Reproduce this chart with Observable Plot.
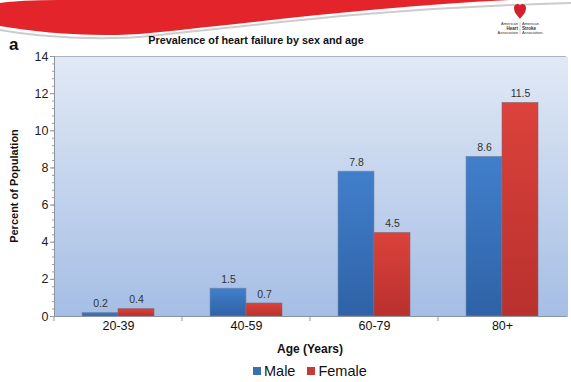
<!DOCTYPE html>
<html>
<head>
<meta charset="utf-8">
<script src="https://cdn.jsdelivr.net/npm/d3@7"></script>
<script src="https://cdn.jsdelivr.net/npm/@observablehq/plot@0.6"></script>
<style>
  html, body { margin: 0; padding: 0; background: #fff; }
  #wrap { position: relative; width: 571px; height: 382px; overflow: hidden; font-family: "Liberation Sans", Arial, sans-serif; color: #111; }
  .abs { position: absolute; white-space: nowrap; }
  #chart { position: absolute; left: 0; top: 0; }
</style>
</head>
<body>
<svg width="0" height="0" style="position:absolute">
  <defs>
    <linearGradient id="bgGrad" x1="0" y1="0" x2="0" y2="1">
      <stop offset="0" stop-color="#e1e9f5"/>
      <stop offset="1" stop-color="#a5bee5"/>
    </linearGradient>
    <linearGradient id="gMale" x1="0" y1="0" x2="0" y2="1">
      <stop offset="0" stop-color="#417fcc"/>
      <stop offset="1" stop-color="#2f62a6"/>
    </linearGradient>
    <linearGradient id="gFemale" x1="0" y1="0" x2="0" y2="1">
      <stop offset="0" stop-color="#dc423b"/>
      <stop offset="1" stop-color="#b8302d"/>
    </linearGradient>
  </defs>
</svg>
<div id="wrap">
  <svg class="abs" style="left:0;top:0" width="571" height="45">
    <path d="M0,30 C40,37 100,41 150,36 C260,25 380,8 571,3" fill="none" stroke="#ccc" stroke-width="2"/>
    <path d="M0,3 Q20,0 60,0 L510,0 C380,6 260,22 150,33 C100,38 40,33 0,26 Z" fill="#e3242b"/>
    <g transform="translate(514,4)">
      <path d="M0,4 C0,-1 6,-1 6,2 C6,-1 12,-1 12,4 C12,9 8,12 6,15 C4,12 0,9 0,4 Z" fill="#d4202a"/>
      <line x1="0" y1="18" x2="0" y2="30" stroke="#999" stroke-width="0.5" transform="translate(6,0)"/>
      <text x="4" y="21" font-size="4" text-anchor="end" fill="#333">American</text>
      <text x="4" y="25.5" font-size="4.5" font-weight="bold" text-anchor="end" fill="#333">Heart</text>
      <text x="4" y="30" font-size="4" text-anchor="end" fill="#333">Association</text>
      <text x="8" y="21" font-size="4" fill="#333">American</text>
      <text x="8" y="25.5" font-size="4.5" font-weight="bold" fill="#333">Stroke</text>
      <text x="8" y="30" font-size="4" fill="#333">Association.</text>
    </g>
  </svg>
  <div id="chart"></div>
  <div class="abs" style="left:9px;top:35px;font-size:17px;font-weight:bold;">a</div>
  <div class="abs" id="title" style="left:256px;top:34px;transform:translateX(-50%);font-size:10.8px;font-weight:bold;">Prevalence of heart failure by sex and age</div>
  <div class="abs" style="left:14px;top:186px;transform:translate(-50%,-50%) rotate(-90deg);font-size:11px;font-weight:bold;">Percent of Population</div>
  <div class="abs" style="left:310px;top:342px;transform:translateX(-50%);font-size:12px;font-weight:bold;">Age (Years)</div>
  <div class="abs" id="legend" style="left:253px;top:363px;font-size:14.5px;display:flex;align-items:center;"></div>
</div>
<script>
const ages = ["20-39", "40-59", "60-79", "80+"];
const sexes = ["Male", "Female"];
const male = [0.2, 1.5, 7.8, 8.6];
const female = [0.4, 0.7, 4.5, 11.5];
const yTicks = [0, 2, 4, 6, 8, 10, 12, 14];
const legendColors = ["#3c6eb2", "#c23a3a"];
const barFills = ["url(#gMale)", "url(#gFemale)"];

const data = ages.flatMap((age, i) => [
  {age, sex: "Male", value: male[i]},
  {age, sex: "Female", value: female[i]}
]);

const minorTicks = d3.range(0, 14.001, 0.4);

// short separator tick at the left edge of each age group, below the baseline
function groupSeparator(index, scales, values, dims) {
  const x = dims.marginLeft;
  const y = dims.height - dims.marginBottom;
  const line = d3.create("svg:line")
    .attr("x1", x).attr("x2", x)
    .attr("y1", y).attr("y2", y + 5)
    .attr("stroke", "#8e949c");
  return line.node();
}

const chart = Plot.plot({
  width: 571,
  height: 382,
  marginTop: 56,
  marginBottom: 66,
  marginLeft: 53,
  marginRight: 4,
  style: {fontFamily: "Liberation Sans, Arial, sans-serif", background: "transparent", overflow: "visible"},
  fx: {domain: ages, padding: 0, round: true, label: null},
  x: {domain: sexes, paddingInner: 0, paddingOuter: 0.74},
  y: {domain: [0, 14]},
  marks: [
    Plot.frame({fill: "url(#bgGrad)", stroke: null, shapeRendering: "crispEdges", insetRight: -1}),
    Plot.ruleY([14], {stroke: "#aab4c4"}),
    Plot.barY(data.filter(d => d.sex === "Male"), {fx: "age", x: "sex", y: "value", fill: barFills[0], stroke: "#7d8ba0", strokeWidth: 0.6}),
    Plot.barY(data.filter(d => d.sex === "Female"), {fx: "age", x: "sex", y: "value", fill: barFills[1], stroke: "#8a6a70", strokeWidth: 0.6}),
    Plot.text(data, {fx: "age", x: "sex", y: "value", text: d => d.value.toFixed(1), dy: -9, fontSize: 10.5, fill: "#333"}),
    Plot.ruleY([0], {stroke: "#8e949c"}),
    groupSeparator,
    Plot.frame({anchor: "left", stroke: "#8e949c", facetAnchor: "left"}),
    Plot.axisY({ticks: yTicks, tickSize: 4, tickPadding: 2, fontSize: 12.5, color: "#222", stroke: "#8e949c", label: null}),
    Plot.axisY({ticks: minorTicks, tickSize: 2, text: null, stroke: "#9aa0a8", label: null}),
    Plot.axisX({ticks: [], label: null}),
    Plot.axisFx({anchor: "bottom", tickSize: 0, tickPadding: 5, fontSize: 12.5, color: "#111", label: null})
  ]
});
document.getElementById("chart").appendChild(chart);

const legend = document.getElementById("legend");
sexes.forEach((s, i) => {
  const sw = document.createElement("span");
  sw.style.cssText = `display:inline-block;width:8px;height:8px;background:${legendColors[i]};margin-right:3px;margin-left:${i ? 12 : 0}px;`;
  const t = document.createElement("span");
  t.textContent = s;
  legend.appendChild(sw);
  legend.appendChild(t);
});
</script>
</body>
</html>
